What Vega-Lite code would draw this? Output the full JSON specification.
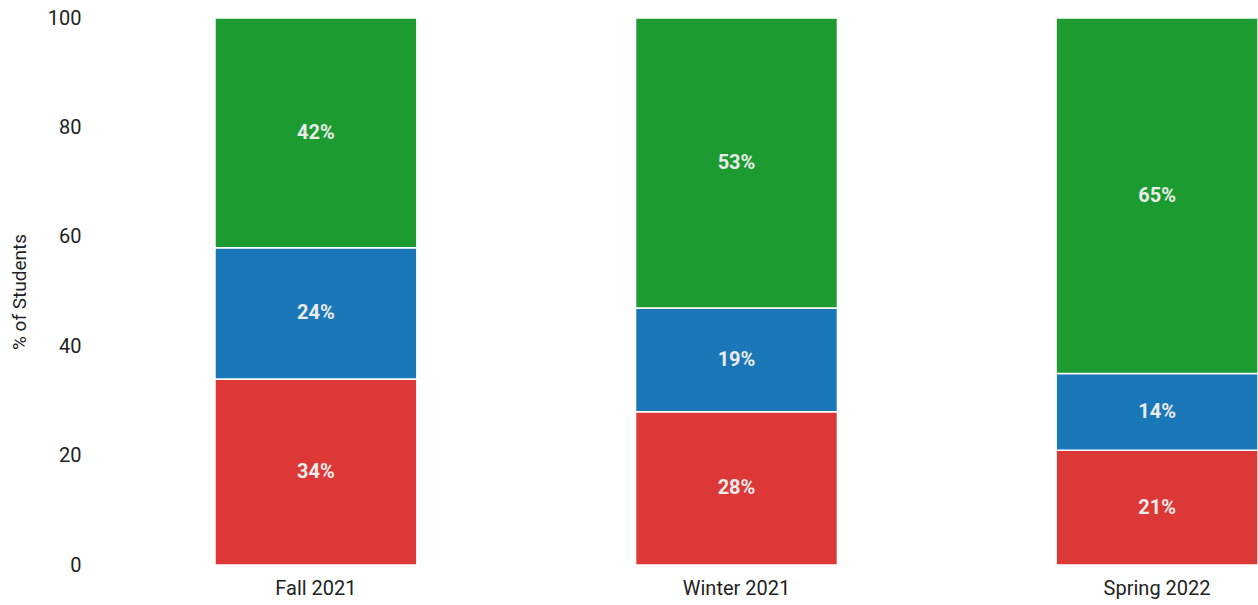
{
  "$schema": "https://vega.github.io/schema/vega-lite/v6.json",
  "autosize": {"type": "none"},
  "width": 1158,
  "height": 547,
  "padding": {"left": 100, "top": 18, "right": 0, "bottom": 40},
  "background": "white",
  "config": {
    "view": {"stroke": null},
    "font": "Roboto",
    "axis": {"labelFont": "Roboto", "titleFont": "Roboto", "labelColor": "#222222", "titleColor": "#222222"}
  },
  "data": {
    "values": [
      {"term": "Fall 2021", "level": "Low", "order": 1, "pct": 34},
      {"term": "Fall 2021", "level": "Middle", "order": 2, "pct": 24},
      {"term": "Fall 2021", "level": "High", "order": 3, "pct": 42},
      {"term": "Winter 2021", "level": "Low", "order": 1, "pct": 28},
      {"term": "Winter 2021", "level": "Middle", "order": 2, "pct": 19},
      {"term": "Winter 2021", "level": "High", "order": 3, "pct": 53},
      {"term": "Spring 2022", "level": "Low", "order": 1, "pct": 21},
      {"term": "Spring 2022", "level": "Middle", "order": 2, "pct": 14},
      {"term": "Spring 2022", "level": "High", "order": 3, "pct": 65}
    ]
  },
  "transform": [
    {"stack": "pct", "groupby": ["term"], "sort": [{"field": "order", "order": "ascending"}], "as": ["y0", "y1"]},
    {"calculate": "(datum.y0 + datum.y1) / 2", "as": "ymid"},
    {"calculate": "datum.pct + '%'", "as": "label"}
  ],
  "encoding": {
    "x": {
      "field": "term",
      "type": "nominal",
      "sort": ["Fall 2021", "Winter 2021", "Spring 2022"],
      "scale": {"paddingInner": 0.52, "paddingOuter": 0.1367, "align": 1},
      "axis": {"title": null, "labelAngle": 0, "ticks": false, "domain": false, "labelFontSize": 20, "labelPadding": 13}
    }
  },
  "layer": [
    {
      "mark": {"type": "bar", "stroke": "white", "strokeWidth": 1.5},
      "encoding": {
        "y": {
          "field": "y0",
          "type": "quantitative",
          "scale": {"domain": [0, 100]},
          "axis": {"title": "% of Students", "titleFontSize": 19, "titleFontWeight": "normal", "titlePadding": 18, "labelFontSize": 20, "ticks": false, "domain": false, "grid": false, "labelPadding": 19, "values": [0, 20, 40, 60, 80, 100]}
        },
        "y2": {"field": "y1"},
        "color": {
          "field": "level",
          "type": "nominal",
          "scale": {"domain": ["Low", "Middle", "High"], "range": ["#dc3838", "#1a78b8", "#1c9b30"]},
          "legend": null
        }
      }
    },
    {
      "mark": {"type": "text", "font": "Roboto", "fontSize": 20, "fontWeight": "bold", "color": "#ebebeb", "baseline": "middle", "align": "center"},
      "encoding": {
        "y": {"field": "ymid", "type": "quantitative"},
        "text": {"field": "label", "type": "nominal"},
        "detail": {"field": "level"}
      }
    }
  ]
}
